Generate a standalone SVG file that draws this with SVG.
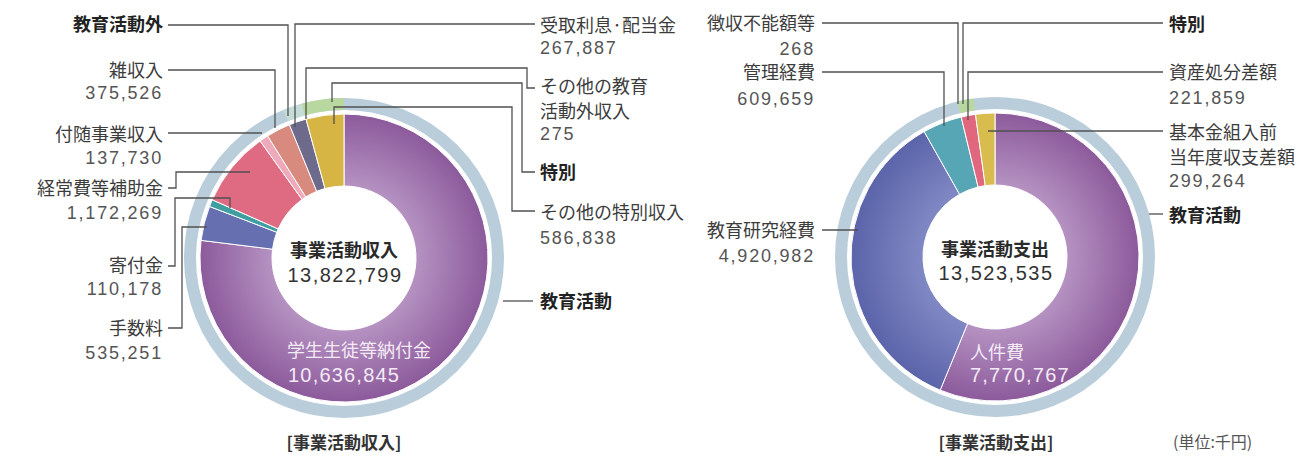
<svg xmlns="http://www.w3.org/2000/svg" width="1300" height="456" viewBox="0 0 1300 456">
<style>
.lbl{font-family:"Noto Sans CJK JP","Noto Sans CJK SC",sans-serif;font-size:18px;fill:#3c3c3c}
.cat{font-family:"Noto Sans CJK JP","Noto Sans CJK SC",sans-serif;font-size:18px;font-weight:bold;fill:#222}
.num{font-family:"Liberation Sans",Arial,sans-serif;font-size:18px;fill:#555;letter-spacing:1.8px}
.end{text-anchor:end}
.ctitle{font-family:"Noto Sans CJK JP","Noto Sans CJK SC",sans-serif;font-size:18px;font-weight:bold;fill:#2a2a2a;text-anchor:middle}
.cnum{font-family:"Liberation Sans",Arial,sans-serif;font-size:20px;fill:#333;letter-spacing:1.5px;text-anchor:middle}
.wl{font-family:"Noto Sans CJK JP","Noto Sans CJK SC",sans-serif;font-size:18px;fill:#f4eaf6}
.wn{font-family:"Liberation Sans",Arial,sans-serif;font-size:20px;fill:#f4eaf6;letter-spacing:1.2px}
.cap{font-family:"Noto Sans CJK JP","Noto Sans CJK SC",sans-serif;font-size:17px;font-weight:bold;fill:#333;text-anchor:middle}
.unit{font-family:"Noto Sans CJK JP","Noto Sans CJK SC",sans-serif;font-size:16px;fill:#555}
.seg{stroke:#ffffff;stroke-width:1}
.ring{fill:none;stroke:#b9cddb;stroke-width:12}
.lead{fill:none;stroke:#505050;stroke-width:1.3}
</style>
<defs>
<radialGradient id="gPurpleL" gradientUnits="userSpaceOnUse" cx="344" cy="258" r="144">
<stop offset="0.5" stop-color="#b592c2"/>
<stop offset="1" stop-color="#8c5a9b"/>
</radialGradient>
<radialGradient id="gPurpleR" gradientUnits="userSpaceOnUse" cx="995" cy="257" r="144">
<stop offset="0.5" stop-color="#b592c2"/>
<stop offset="1" stop-color="#8c5a9b"/>
</radialGradient>
<radialGradient id="gBlueR" gradientUnits="userSpaceOnUse" cx="995" cy="257" r="144">
<stop offset="0.5" stop-color="#8088c4"/>
<stop offset="1" stop-color="#5c64aa"/>
</radialGradient>
</defs>

<!-- Left donut: 事業活動収入 -->
<g id="donut-income">
  <circle class="ring" cx="344" cy="258" r="154"/>
  <path id="ring-gai" d="M283.39 109.93 A160 160 0 0 1 301.83 103.66 L305 115.23 A148 148 0 0 0 287.93 121.03 Z" fill="#c6dcd6"/>
  <path id="ring-tokubetsu-l" d="M301.83 103.66 A160 160 0 0 1 344 98 L344 110 A148 148 0 0 0 305 115.23 Z" fill="#b8d8a0"/>
  <path class="seg" d="M344 114 A144 144 0 1 1 201.08 240.38 L272.54 249.19 A72 72 0 1 0 344 186 Z" fill="url(#gPurpleL)"/>
  <path class="seg" d="M201.08 240.38 A144 144 0 0 1 209.54 206.47 L276.77 232.23 A72 72 0 0 0 272.54 249.19 Z" fill="#6670b0"/>
  <path class="seg" d="M209.54 206.47 A144 144 0 0 1 212.28 199.8 L278.14 228.9 A72 72 0 0 0 276.77 232.23 Z" fill="#3e9ea0"/>
  <path class="seg" d="M212.28 199.8 A144 144 0 0 1 260.1 140.97 L302.05 199.48 A72 72 0 0 0 278.14 228.9 Z" fill="#df6b82"/>
  <path class="seg" d="M260.1 140.97 A144 144 0 0 1 267.61 135.93 L305.8 196.97 A72 72 0 0 0 302.05 199.48 Z" fill="#eeaabb"/>
  <path class="seg" d="M267.61 135.93 A144 144 0 0 1 289.45 124.73 L316.72 191.37 A72 72 0 0 0 305.8 196.97 Z" fill="#d88a7e"/>
  <path class="seg" d="M289.45 124.73 A144 144 0 0 1 306.05 119.09 L325.03 188.55 A72 72 0 0 0 316.72 191.37 Z" fill="#6e6a8c"/>
  <path class="seg" d="M306.05 119.09 A144 144 0 0 1 344 114 L344 186 A72 72 0 0 0 325.03 188.55 Z" fill="#d6b545"/>
</g>

<!-- Right donut: 事業活動支出 -->
<g id="donut-expense">
  <circle class="ring" cx="995" cy="257" r="154"/>
  <path id="ring-tokubetsu-r" d="M957.46 101.47 A160 160 0 0 1 973.31 98.48 L974.94 110.37 A148 148 0 0 0 960.28 113.13 Z" fill="#b8d8a0"/>
  <path class="seg" d="M995 113 A144 144 0 1 1 940.17 390.15 L967.59 323.58 A72 72 0 1 0 995 185 Z" fill="url(#gPurpleR)"/>
  <path class="seg" d="M940.17 390.15 A144 144 0 0 1 924.17 131.62 L959.59 194.31 A72 72 0 0 0 967.59 323.58 Z" fill="url(#gBlueR)"/>
  <path class="seg" d="M924.17 131.62 A144 144 0 0 1 961.19 117.02 L978.1 187.01 A72 72 0 0 0 959.59 194.31 Z" fill="#56a6b6"/>
  <path class="seg" d="M961.19 117.02 A144 144 0 0 1 975.48 114.33 L985.24 185.66 A72 72 0 0 0 978.1 187.01 Z" fill="#e0677e"/>
  <path class="seg" d="M975.48 114.33 A144 144 0 0 1 995 113 L995 185 A72 72 0 0 0 985.24 185.66 Z" fill="#d8bc4e"/>
</g>

<!-- Connectors -->
<g id="connectors">
  <path class="lead" d="M168 25 H288 V116"/>
  <path class="lead" d="M168 70 H275 V128"/>
  <path class="lead" d="M168 133 H262"/>
  <path class="lead" d="M168 188 H176 V172 H250"/>
  <path class="lead" d="M168 266 H175 V198 H230 V208"/>
  <path class="lead" d="M168 328 H182 V227 H207"/>
  <path class="lead" d="M503 301 H533"/>
  <path class="lead" d="M295 127 V24 H535"/>
  <path class="lead" d="M306 119 V68 H527 V88 H535"/>
  <path class="lead" d="M332 102 V83 H522 V172 H535"/>
  <path class="lead" d="M334 124 V107 H512 V211 H535"/>
  <path class="lead" d="M822 23 H958 V104"/>
  <path class="lead" d="M963 104 V23 H1163"/>
  <path class="lead" d="M822 72 H944 V126"/>
  <path class="lead" d="M968 120 V72 H1163"/>
  <path class="lead" d="M988 131 H1163"/>
  <path class="lead" d="M1149 214 H1163"/>
  <path class="lead" d="M822 230 H858"/>
</g>

<!-- Labels: income -->
<g id="labels-income">
  <text class="cat end" x="163" y="31">教育活動外</text>
  <text class="lbl end" x="163" y="77">雑収入</text>
  <text class="num end" x="163" y="98.5">375,526</text>
  <text class="lbl end" x="163" y="141">付随事業収入</text>
  <text class="num end" x="163" y="163.5">137,730</text>
  <text class="lbl end" x="163" y="195">経常費等補助金</text>
  <text class="num end" x="163" y="218.5">1,172,269</text>
  <text class="lbl end" x="163" y="272">寄付金</text>
  <text class="num end" x="163" y="294.5">110,178</text>
  <text class="lbl end" x="163" y="335">手数料</text>
  <text class="num end" x="163" y="358.5">535,251</text>
  <text class="lbl" x="540" y="32">受取利息·配当金</text>
  <text class="num" x="540" y="53.5">267,887</text>
  <text class="lbl" x="540" y="93">その他の教育</text>
  <text class="lbl" x="540" y="118">活動外収入</text>
  <text class="num" x="540" y="140">275</text>
  <text class="cat" x="540" y="179">特別</text>
  <text class="lbl" x="540" y="219">その他の特別収入</text>
  <text class="num" x="540" y="243.5">586,838</text>
  <text class="cat" x="540" y="308">教育活動</text>
  <text class="ctitle" x="344" y="257">事業活動収入</text>
  <text class="cnum" x="345" y="281.5">13,822,799</text>
  <text class="wl" x="287" y="357">学生生徒等納付金</text>
  <text class="wn" x="288" y="381.5">10,636,845</text>
  <text class="cap" x="344" y="449">[事業活動収入]</text>
</g>

<!-- Labels: expense -->
<g id="labels-expense">
  <text class="lbl end" x="815" y="30">徴収不能額等</text>
  <text class="num end" x="815" y="54.5">268</text>
  <text class="lbl end" x="815" y="79">管理経費</text>
  <text class="num end" x="815" y="104.5">609,659</text>
  <text class="lbl end" x="815" y="237">教育研究経費</text>
  <text class="num end" x="815" y="261.5">4,920,982</text>
  <text class="cat" x="1169" y="31">特別</text>
  <text class="lbl" x="1169" y="79">資産処分差額</text>
  <text class="num" x="1169" y="103.5">221,859</text>
  <text class="lbl" x="1169" y="139">基本金組入前</text>
  <text class="lbl" x="1169" y="164">当年度収支差額</text>
  <text class="num" x="1169" y="186.5">299,264</text>
  <text class="cat" x="1169" y="222">教育活動</text>
  <text class="ctitle" x="995" y="255.5">事業活動支出</text>
  <text class="cnum" x="996" y="279.5">13,523,535</text>
  <text class="wl" x="970" y="359">人件費</text>
  <text class="wn" x="970" y="381.5">7,770,767</text>
  <text class="cap" x="996" y="449">[事業活動支出]</text>
  <text class="unit" x="1173" y="448">(単位:千円)</text>
</g>
</svg>
